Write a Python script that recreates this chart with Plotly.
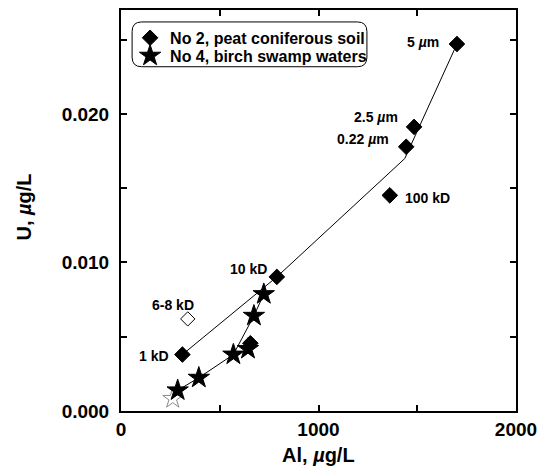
import plotly.graph_objects as go

# --- data ---
no2_al = [311, 789, 1361, 1444, 1484, 1701, 655]
no2_u = [0.0038, 0.00903, 0.01452, 0.01779, 0.01913, 0.02471, 0.00456]
no2_labels = ["1 kD", "10 kD", "100 kD", "0.22 <i>µ</i>m", "2.5 <i>µ</i>m", "5 <i>µ</i>m", ""]

no2_open_al = [338]
no2_open_u = [0.0062]
no2_open_labels = ["6-8 kD"]

no4_al = [287, 394, 569, 643, 673, 723]
no4_u = [0.00139, 0.00224, 0.0038, 0.00418, 0.00641, 0.00787]

no4_open_al = [262]
no4_open_u = [0.00083]

no2_line_al = [311, 789, 1437, 1701]
no2_line_u = [0.0038, 0.00903, 0.0170, 0.02471]

no4_line_al = [287, 394, 569, 673, 723]
no4_line_u = [0.00139, 0.00224, 0.0038, 0.00641, 0.00787]

x_ticks = [0, 500, 1000, 1500, 2000]
x_ticktext = ["0", "", "1000", "", "2000"]
y_ticks = [0.0, 0.005, 0.010, 0.015, 0.020, 0.025]
y_ticktext = ["0.000", "", "0.010", "", "0.020", ""]

FONT = "Liberation Sans, Arial, Helvetica, sans-serif"

fig = go.Figure()

fig.add_trace(go.Scatter(x=no2_line_al, y=no2_line_u, mode="lines",
                         line=dict(color="black", width=1), showlegend=False, hoverinfo="skip"))
fig.add_trace(go.Scatter(x=no4_line_al, y=no4_line_u, mode="lines",
                         line=dict(color="black", width=1), showlegend=False, hoverinfo="skip"))

fig.add_trace(go.Scatter(x=no4_open_al, y=no4_open_u, mode="markers", showlegend=False,
                         marker=dict(symbol="star-open", size=15, color="#8a8a8a",
                                     line=dict(color="#8a8a8a", width=1))))
fig.add_trace(go.Scatter(x=no2_open_al, y=no2_open_u, mode="markers", showlegend=False,
                         marker=dict(symbol="diamond-open", size=11, color="black",
                                     line=dict(color="black", width=1))))

fig.add_trace(go.Scatter(x=no2_al, y=no2_u, mode="markers", name="No 2, peat coniferous soil",
                         legend="legend",
                         marker=dict(symbol="diamond", size=12, color="black",
                                     line=dict(color="black", width=1))))
fig.add_trace(go.Scatter(x=no4_al, y=no4_u, mode="markers", name="No 4, birch swamp waters",
                         legend="legend2",
                         marker=dict(symbol="star", size=16, color="black",
                                     line=dict(color="black", width=1))))

# point labels: (xanchor, xshift, yshift)
label_style = {
    "1 kD": ("right", -11, -1),
    "10 kD": ("right", -8, 8),
    "100 kD": ("left", 13, -3),
    "0.22 <i>µ</i>m": ("right", -15, 8),
    "2.5 <i>µ</i>m": ("right", -14, 10),
    "5 <i>µ</i>m": ("right", -16, 2),
    "6-8 kD": ("center", -15, 14),
}
for xa, ya, t in list(zip(no2_al, no2_u, no2_labels)) + list(zip(no2_open_al, no2_open_u, no2_open_labels)):
    if not t:
        continue
    anc, xs, ys = label_style[t]
    fig.add_annotation(x=xa, y=ya, text=t, showarrow=False, xanchor=anc, yanchor="middle",
                       xshift=xs, yshift=ys,
                       font=dict(family=FONT, size=14, color="black", weight="bold"))

# axis titles
fig.add_annotation(xref="paper", yref="paper", x=0.5, y=-0.11, text="Al, <i>µ</i>g/L",
                   showarrow=False, xanchor="center", yanchor="middle",
                   font=dict(family=FONT, size=20, color="black", weight="bold"))
fig.add_annotation(xref="paper", yref="paper", x=-0.245, y=0.508, text="U, <i>µ</i>g/L",
                   showarrow=False, textangle=-90, xanchor="center", yanchor="middle",
                   font=dict(family=FONT, size=20, color="black", weight="bold"))

# rounded legend box
x0, x1, y0, y1 = 0.0281, 0.6226, 0.8585, 0.9702
rx, ry = 0.024, 0.024
path = (f"M {x0+rx},{y1} L {x1-rx},{y1} Q {x1},{y1} {x1},{y1-ry} "
        f"L {x1},{y0+ry} Q {x1},{y0} {x1-rx},{y0} L {x0+rx},{y0} "
        f"Q {x0},{y0} {x0},{y0+ry} L {x0},{y1-ry} Q {x0},{y1} {x0+rx},{y1} Z")
fig.add_shape(type="path", path=path, xref="paper", yref="paper",
              line=dict(color="black", width=1), fillcolor="rgba(0,0,0,0)")

axis_common = dict(showline=True, linecolor="black", linewidth=2, mirror="allticks",
                   ticks="inside", ticklen=6, tickwidth=1.5, tickcolor="black",
                   showgrid=False, zeroline=False,
                   tickfont=dict(family=FONT, size=19, color="black", weight="bold"))

fig.update_xaxes(range=[0, 2000], tickmode="array", tickvals=x_ticks, ticktext=x_ticktext,
                 ticklabelstandoff=0, **axis_common)
fig.update_yaxes(range=[0, 0.027], tickmode="array", tickvals=y_ticks, ticktext=y_ticktext,
                 ticklabelstandoff=6, **axis_common)

legend_common = dict(xanchor="left", yanchor="middle", bgcolor="rgba(0,0,0,0)", borderwidth=0,
                     font=dict(family=FONT, size=16, color="black", weight="bold"),
                     itemwidth=30)

fig.update_layout(
    width=545, height=470,
    margin=dict(l=121, r=22, t=8, b=59),
    paper_bgcolor="white", plot_bgcolor="white",
    showlegend=True,
    legend=dict(x=0.023, y=0.9305, **legend_common),
    legend2=dict(x=0.023, y=0.8858, **legend_common),
    font=dict(family=FONT, color="black"),
)

fig.write_html("out.html")
